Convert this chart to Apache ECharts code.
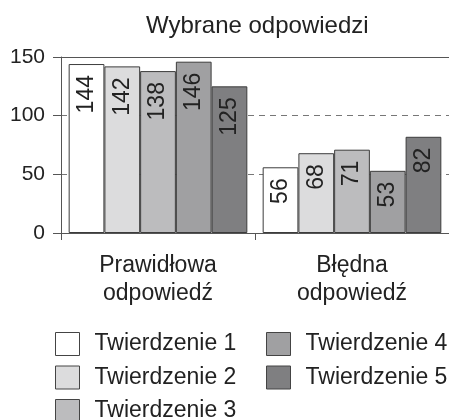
<!DOCTYPE html>
<html>
<head>
<meta charset="utf-8">
<script src="https://cdn.jsdelivr.net/npm/echarts@6/dist/echarts.min.js"></script>
<style>
  html, body { margin: 0; padding: 0; background: #fff; }
  #main { width: 449px; height: 420px; }
</style>
</head>
<body>
<div id="main"></div>
<script>
// categories and values
const categories = ['Prawidłowa\nodpowiedź', 'Błędna\nodpowiedź'];
const seriesNames = ['Twierdzenie 1', 'Twierdzenie 2', 'Twierdzenie 3', 'Twierdzenie 4', 'Twierdzenie 5'];
const t1 = [144, 56];
const t2 = [142, 68];
const t3 = [138, 71];
const t4 = [146, 53];
const t5 = [125, 82];
const yTicks = [0, 50, 100, 150];

const allValues = [t1, t2, t3, t4, t5];
const colors = ['#ffffff', '#dcdcdd', '#bcbcbe', '#a0a0a2', '#7f7f81'];
const font = 'Liberation Sans, Arial, sans-serif';
const axisColor = '#555';

const chart = echarts.init(document.getElementById('main'));

/* bars, value written bottom-to-top under the bar top */
const series = seriesNames.map((name, i) => ({
  name: name,
  type: 'bar',
  data: allValues[i],
  barGap: '0%',
  barCategoryGap: '7.9%',
  itemStyle: { color: colors[i], borderColor: '#3c3c3c', borderWidth: 1 },
  label: {
    show: true,
    position: 'insideTop',
    distance: 11,
    rotate: 90,
    align: 'right',
    verticalAlign: 'middle',
    color: '#222',
    fontSize: 23,
    fontFamily: font
  }
}));

const legendBase = {
  orient: 'vertical',
  padding: 0,
  height: 150,
  itemWidth: 24,
  itemHeight: 23,
  itemGap: 9.5,
  icon: 'rect',
  selectedMode: false,
  itemStyle: { borderColor: '#444', borderWidth: 1 },
  textStyle: { color: '#222', fontSize: 23, fontFamily: font, padding: [0, 0, 0, 10] }
};

chart.setOption({
  backgroundColor: '#fff',
  animation: false,
  title: {
    text: 'Wybrane odpowiedzi',
    left: 146,
    top: 14,
    padding: 0,
    textStyle: { color: '#222', fontSize: 24, fontWeight: 'normal', fontFamily: font }
  },
  legend: [
    Object.assign({}, legendBase, { data: seriesNames.slice(0, 3), left: 55, top: 332 }),
    Object.assign({}, legendBase, { data: seriesNames.slice(3), left: 266, top: 332 })
  ],
  grid: { left: 61, top: 57, width: 393, bottom: 187, containLabel: false },
  xAxis: [
    {
      type: 'category',
      data: categories,
      axisLine: { lineStyle: { color: axisColor, width: 1 } },
      axisTick: { show: true, length: 7, lineStyle: { color: axisColor } },
      axisLabel: { color: '#222', fontSize: 23, fontFamily: font, lineHeight: 28, margin: 19, interval: 0 }
    },
    {
      type: 'category',
      data: categories,
      position: 'top',
      axisLine: { show: true, lineStyle: { color: axisColor, width: 1 } },
      axisTick: { show: false },
      axisLabel: { show: false }
    }
  ],
  yAxis: {
    type: 'value',
    min: yTicks[0],
    max: yTicks[yTicks.length - 1],
    interval: 50,
    axisLine: { show: true, lineStyle: { color: axisColor, width: 1 } },
    axisTick: { show: true, length: 8, lineStyle: { color: axisColor } },
    axisLabel: { color: '#222', fontSize: 21, fontFamily: font, margin: 16 },
    splitLine: { show: true, lineStyle: { color: '#777', type: [6, 5], width: 1 } }
  },
  series: series
});
</script>
</body>
</html>
